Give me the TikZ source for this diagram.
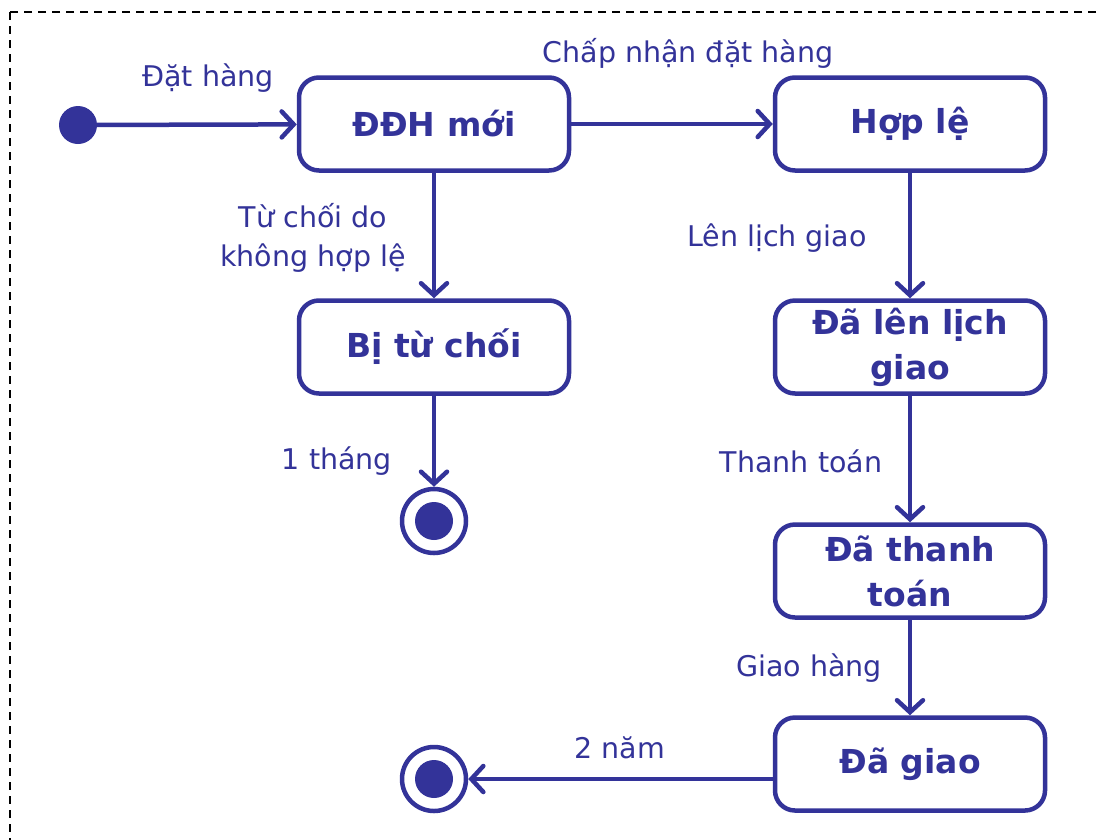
\documentclass[tikz,border=0pt]{standalone}
\usepackage{fontspec}
\setmainfont{DejaVu Sans}
\usetikzlibrary{arrows.meta}
\definecolor{uml}{RGB}{51,51,153}
\begin{document}
\begin{tikzpicture}[x=1pt,y=-1pt,
  state/.style={draw=uml, line width=4.5pt, rounded corners=20pt,
    minimum width=270pt, minimum height=93pt, text=uml, align=center,
    inner sep=0pt, font=\bfseries\fontsize{33}{45}\selectfont},
  lbl/.style={text=uml, align=center, inner sep=0pt,
    font=\fontsize{28.5}{39}\selectfont},
  trans/.style={draw=uml, line width=4.5pt, line cap=round,
    -{Straight Barb[length=12pt,width=26pt,line cap=round]}},
  final/.style={circle, draw=uml, line width=4.5pt, minimum size=64pt, inner sep=0pt},
]
\useasboundingbox (0,0) rectangle (1102,839);
% frame
\draw[line width=1.6pt, dash pattern=on 8pt off 6pt] (10,12) rectangle (1130,870);

% states
\node[state] (new)  at (434,124) {ĐĐH mới};
\node[state] (ok)   at (910,124) {Hợp lệ};
\node[state] (rej)  at (434,347) {Bị từ chối};
\node[state] (sch)  at (910,347) {Đã lên lịch\\giao};
\node[state] (paid) at (910,571) {Đã thanh\\toán};
\node[state] (done) at (910,764) {Đã giao};

% pseudo states
\node[circle, fill=uml, minimum size=38pt, inner sep=0pt] (init) at (78,125) {};
\node[final] (end1) at (434,521) {};
\fill[uml] (end1.center) circle (19pt);
\node[final] (end2) at (434,779) {};
\fill[uml] (end2.center) circle (19pt);
\coordinate (doneout) at (done.west |- end2.center);

% transitions
\draw[trans] (init) -- (new);
\draw[trans] (new) -- (ok);
\draw[trans] (new) -- (rej);
\draw[trans] (ok) -- (sch);
\draw[trans] (rej) -- (end1);
\draw[trans] (sch) -- (paid);
\draw[trans] (paid) -- (done);
\draw[trans] (doneout) -- (end2);

% labels
\node[lbl] (l1) at (208,78) {Đặt hàng};
\node[lbl] (l2) at (688,53) {Chấp nhận đặt hàng};
\node[lbl] (l3) at (313,238) {Từ chối do\\không hợp lệ};
\node[lbl] (l4) at (777,238) {Lên lịch giao};
\node[lbl] (l5) at (337,461) {1 tháng};
\node[lbl] (l6) at (801,461) {Thanh toán};
\node[lbl] (l7) at (809,668) {Giao hàng};
\node[lbl] (l8) at (620,748) {2 năm};
\end{tikzpicture}
\end{document}
